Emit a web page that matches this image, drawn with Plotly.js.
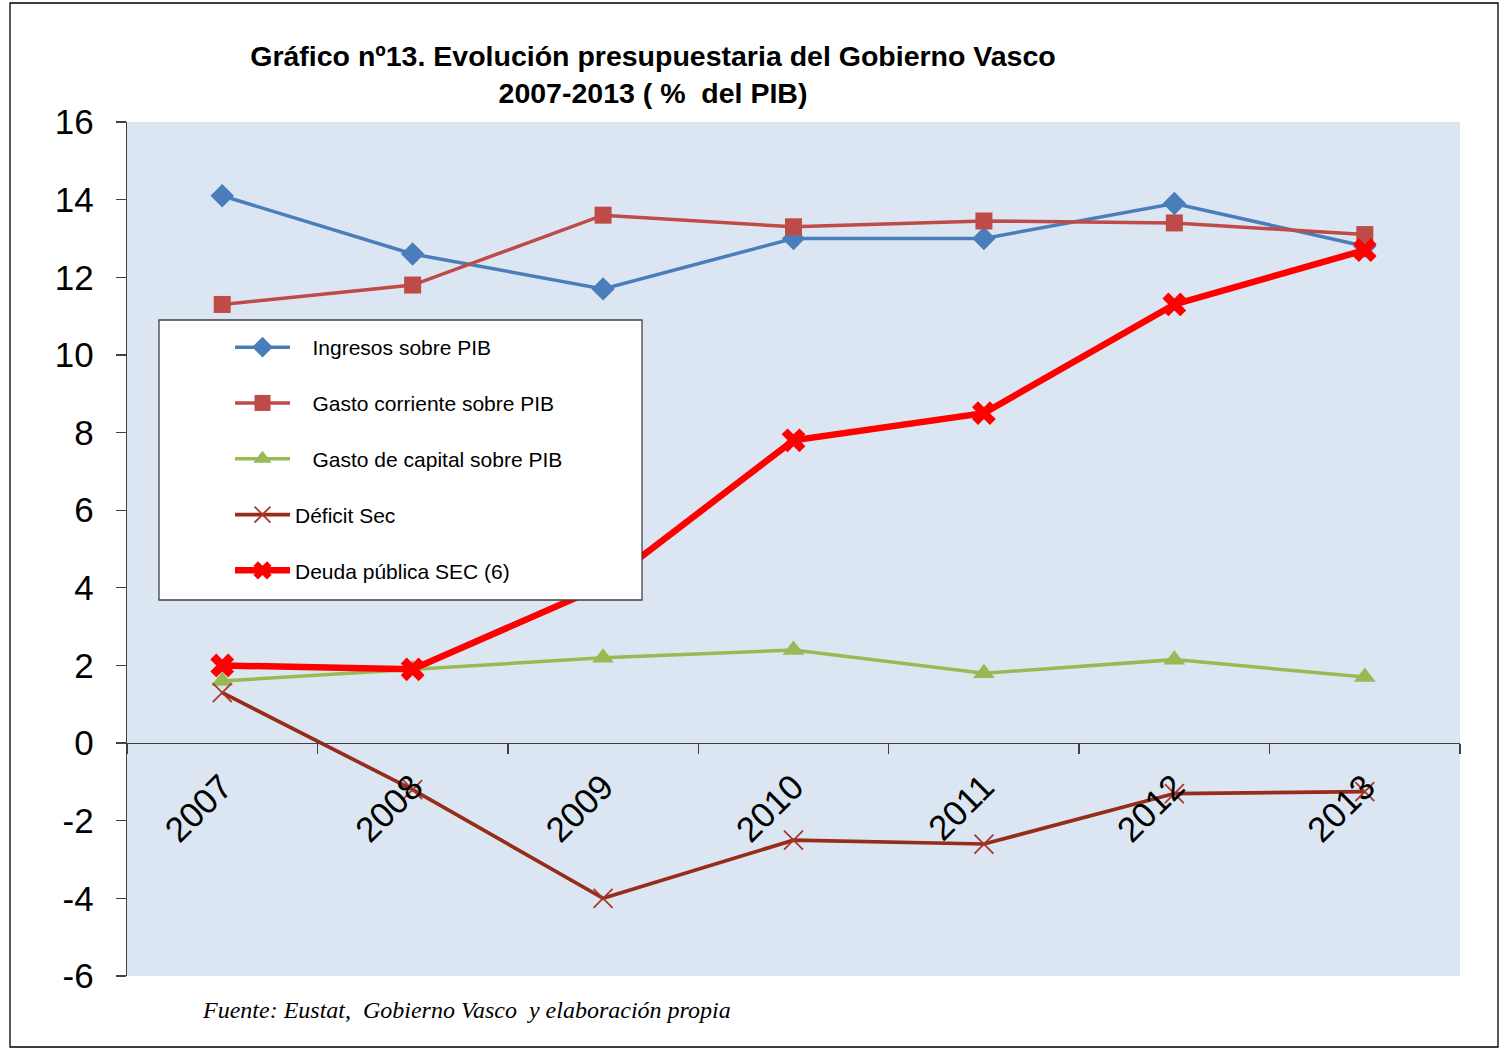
<!DOCTYPE html>
<html>
<head>
<meta charset="utf-8">
<script src="https://cdn.plot.ly/plotly-3.0.1.min.js"></script>
<style>
  html, body { margin: 0; padding: 0; background: #ffffff; }
  #chart { width: 1508px; height: 1052px; }
</style>
</head>
<body>
<div id="chart"></div>
<script>
// ---- data ----
const years = ['2007', '2008', '2009', '2010', '2011', '2012', '2013'];
const ingresos = [14.1, 12.6, 11.7, 13.0, 13.0, 13.9, 12.8];
const gastoCorriente = [11.3, 11.8, 13.6, 13.3, 13.45, 13.4, 13.1];
const gastoCapital = [1.6, 1.9, 2.2, 2.4, 1.8, 2.15, 1.7];
const deficit = [1.3, -1.2, -4.0, -2.5, -2.6, -1.3, -1.25];
const deuda = [2.0, 1.9, 4.05, 7.8, 8.5, 11.3, 12.7];
const yTickVals = [-6, -4, -2, 0, 2, 4, 6, 8, 10, 12, 14, 16];
const yTickText = ['-6', '-4', '-2', '0', '2', '4', '6', '8', '10', '12', '14', '16'];
const seriesNames = ['Ingresos sobre PIB', 'Gasto corriente sobre PIB', 'Gasto de capital sobre PIB', 'Déficit Sec', 'Deuda pública SEC (6)'];

const pad = (n) => '\u00a0'.repeat(n);

const traces = [
  {
    x: years, y: ingresos, name: pad(3) + seriesNames[0], legendgroup: 'g1',
    mode: 'lines+markers', type: 'scatter',
    line: {color: '#4A7EBB', width: 3.5},
    marker: {symbol: 'diamond', size: 18, color: '#4A7EBB'}
  },
  {
    x: years, y: gastoCorriente, name: pad(3) + seriesNames[1], legendgroup: 'g2',
    mode: 'lines+markers', type: 'scatter',
    line: {color: '#BE4B48', width: 3.5},
    marker: {symbol: 'square', size: 17, color: '#BE4B48'}
  },
  {
    x: years, y: gastoCapital, name: pad(3) + seriesNames[2], legendgroup: 'g3',
    mode: 'lines+markers', type: 'scatter',
    line: {color: '#98B954', width: 3.5},
    marker: {symbol: 'triangle-up', size: 19, color: '#98B954'}
  },
  {
    x: years, y: deficit, name: seriesNames[3], legendgroup: 'g4',
    mode: 'lines+markers', type: 'scatter',
    line: {color: '#962D1B', width: 3.7},
    marker: {symbol: 'x-thin-open', size: 19, line: {color: '#A8392A', width: 1.8}, color: '#A8392A'}
  },
  {
    x: years, y: deuda, name: seriesNames[4], legendgroup: 'g5',
    mode: 'lines+markers', type: 'scatter',
    line: {color: '#FF0000', width: 6.5},
    marker: {symbol: 'x', size: 21, color: '#FF0000'}
  }
];

const L = 127, R = 1460, T = 122, B = 976;
const W = R - L, H = B - T;
const px = (x) => (x - L) / W;
const py = (y) => (B - y) / H;

const layout = {
  width: 1508, height: 1052,
  margin: {l: L, r: 1508 - R, t: T, b: 1052 - B, pad: 0},
  paper_bgcolor: '#ffffff',
  plot_bgcolor: '#DCE6F2',
  font: {family: 'Liberation Sans, Arial, sans-serif', color: '#000000'},
  showlegend: true,
  title: {
    text: '<b>Gráfico nº13. Evolución presupuestaria del Gobierno Vasco<br>2007-2013 ( %  del PIB)</b>',
    font: {family: 'Liberation Sans, Arial, sans-serif', size: 28.5, color: '#000000'},
    xref: 'container', x: 653 / 1508, xanchor: 'center',
    yref: 'container', y: 1 - 66 / 1052, yanchor: 'top'
  },
  xaxis: {
    type: 'category',
    range: [-0.5, 6.5],
    anchor: 'free',
    position: 6 / 22,
    showline: true, linecolor: '#404040', linewidth: 1.3,
    ticks: 'outside', ticklen: 10, tickcolor: '#404040', tickwidth: 1.3,
    tickson: 'boundaries',
    tickangle: -45,
    ticklabelstandoff: 8,
    tickfont: {size: 35, family: 'Liberation Sans, Arial, sans-serif', color: '#000000'},
    showgrid: false, zeroline: false,
    fixedrange: true
  },
  yaxis: {
    range: [-6, 16],
    tickvals: yTickVals, ticktext: yTickText,
    showline: true, linecolor: '#404040', linewidth: 1.3,
    ticks: 'outside', ticklen: 10, tickcolor: '#404040', tickwidth: 1.3,
    ticklabelstandoff: 15,
    tickfont: {size: 35, family: 'Liberation Sans, Arial, sans-serif', color: '#000000'},
    showgrid: false, zeroline: false,
    fixedrange: true
  },
  legend: {
    x: px(230), xanchor: 'left',
    y: py(327), yanchor: 'top',
    bgcolor: 'rgba(0,0,0,0)',
    borderwidth: 0,
    itemwidth: 55,
    tracegroupgap: 25.5,
    font: {size: 21, family: 'Liberation Sans, Arial, sans-serif', color: '#000000'},
    traceorder: 'grouped'
  },
  shapes: [
    {
      type: 'rect', xref: 'paper', yref: 'paper', layer: 'above',
      x0: px(159), x1: px(642), y0: py(600), y1: py(320),
      fillcolor: '#ffffff', line: {color: '#404040', width: 1.3}
    },
    {
      type: 'rect', xref: 'paper', yref: 'paper', layer: 'below',
      x0: px(10), x1: px(1498), y0: py(1047), y1: py(3),
      fillcolor: 'rgba(0,0,0,0)', line: {color: '#000000', width: 1.3}
    }
  ],
  annotations: [
    {
      text: 'Fuente: Eustat,  Gobierno Vasco  y elaboración propia',
      xref: 'paper', yref: 'paper', x: px(200), y: py(1010),
      xanchor: 'left', yanchor: 'middle', showarrow: false,
      font: {family: 'Liberation Serif, Times New Roman, serif', size: 24, color: '#000000', style: 'italic'}
    }
  ]
};

Plotly.newPlot('chart', traces, layout, {displayModeBar: false, staticPlot: true});
</script>
</body>
</html>
